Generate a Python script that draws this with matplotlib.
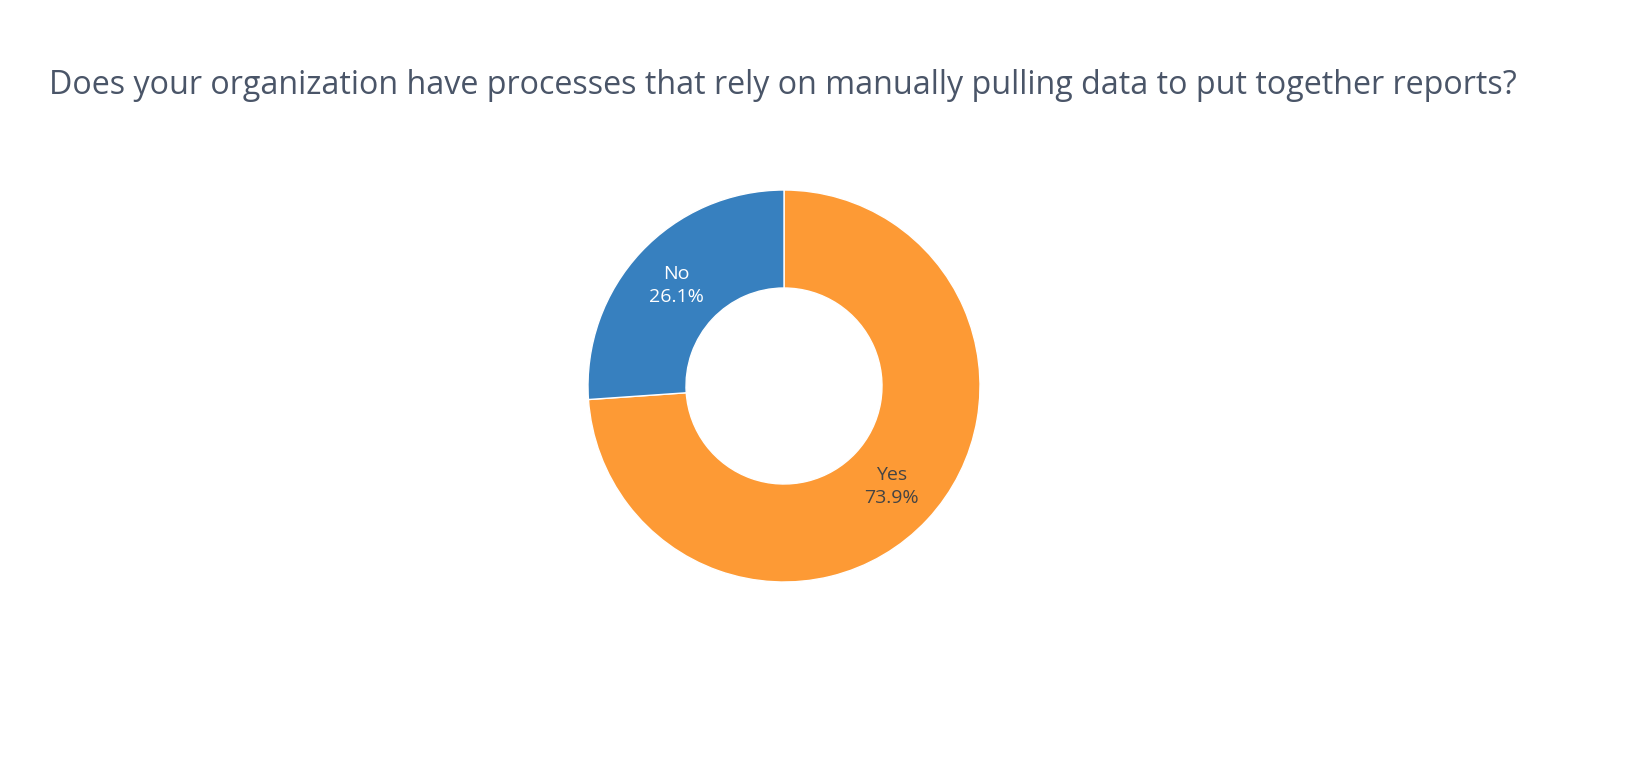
import matplotlib.pyplot as plt
import numpy as np

labels = ["Yes", "No"]
values = [73.9, 26.1]
colors = ["#FD9A35", "#3780BF"]
text_colors = ["#444444", "#FFFFFF"]

W, H = 1638, 768
fig = plt.figure(figsize=(W / 100, H / 100), dpi=100)
plt.rcParams["font.family"] = "Open Sans"

cx, cy, r = 784, 386, 196
ax = fig.add_axes([(cx - r) / W, 1 - (cy + r) / H, 2 * r / W, 2 * r / H])
wedges, _ = ax.pie(values, colors=colors, startangle=90, counterclock=False,
                   radius=1, wedgeprops=dict(width=0.5, edgecolor="white", linewidth=1))
ax.set_xlim(-1, 1)
ax.set_ylim(-1, 1)
ax.set_aspect("equal")
ax.axis("off")

total = sum(values)
for w, lab, val, tc in zip(wedges, labels, values, text_colors):
    ang = np.deg2rad((w.theta1 + w.theta2) / 2)
    ax.text(0.75 * np.cos(ang), 0.75 * np.sin(ang), f"{lab}\n{val / total * 100:.1f}%",
            ha="center", va="center", fontsize=14, color=tc, linespacing=1.35)

fig.text(783 / W, 1 - 86 / H,
         "Does your organization have processes that rely on manually pulling data to put together reports?",
         ha="center", va="center", fontsize=23.2, color="#4A5568")

fig.savefig("out.png", dpi=100)
